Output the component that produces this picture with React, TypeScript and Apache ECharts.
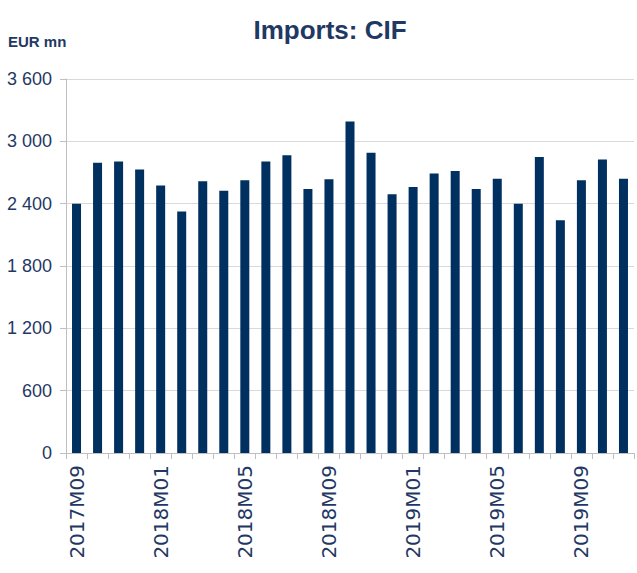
import React, { useEffect, useRef } from "react";
import * as echarts from "echarts";

const months: string[] = [
  "2017M09", "2017M10", "2017M11", "2017M12",
  "2018M01", "2018M02", "2018M03", "2018M04",
  "2018M05", "2018M06", "2018M07", "2018M08",
  "2018M09", "2018M10", "2018M11", "2018M12",
  "2019M01", "2019M02", "2019M03", "2019M04",
  "2019M05", "2019M06", "2019M07", "2019M08",
  "2019M09", "2019M10", "2019M11",
];

const importsCIF: number[] = [
  2400, 2795, 2805, 2730, 2575, 2325, 2615, 2525,
  2625, 2805, 2865, 2540, 2635, 3190, 2890, 2490,
  2560, 2690, 2715, 2540, 2640, 2400, 2850, 2240,
  2625, 2825, 2640,
];

const yTicks: number[] = [0, 600, 1200, 1800, 2400, 3000, 3600];

const titleText = "Imports: CIF";
const unitText = "EUR mn";

const NAVY = "#1f3864";
const BAR = "#00305f";
const NARROW = "'Liberation Sans', Arial, sans-serif";

export default function App() {
  const ref = useRef<HTMLDivElement>(null);
  useEffect(() => {
    if (!ref.current) return;
    const chart = echarts.init(ref.current, null, { renderer: "svg" });
    chart.setOption({
      animation: false,
      backgroundColor: "#ffffff",
      title: {
        text: titleText,
        left: 325,
        textAlign: "center",
        top: 12,
        textStyle: {
          fontFamily: NARROW,
          fontSize: 26,
          fontWeight: "bold",
          color: NAVY,
        },
      },
      graphic: [
        {
          type: "text",
          left: 8,
          top: 34,
          style: {
            text: unitText,
            fontFamily: NARROW,
            fontSize: 15,
            fontWeight: "bold",
            fill: NAVY,
          },
        },
      ],
      grid: { left: 66, right: 3, top: 79, bottom: 120 },
      xAxis: {
        type: "category",
        data: months,
        boundaryGap: true,
        axisLine: { lineStyle: { color: "#bfbfbf", width: 1 } },
        axisTick: { show: true, length: 6, lineStyle: { color: "#bfbfbf" }, interval: 0 },
        axisLabel: {
          interval: 3,
          rotate: 90,
          margin: 12,
          color: NAVY,
          fontFamily: "'DejaVu Sans', sans-serif",
          fontSize: 20,
        },
        splitLine: { show: false },
      },
      yAxis: {
        type: "value",
        min: yTicks[0],
        max: yTicks[yTicks.length - 1],
        interval: 600,
        axisLine: { show: true, lineStyle: { color: "#bfbfbf" } },
        axisTick: { show: true, length: 6, lineStyle: { color: "#bfbfbf" } },
        axisLabel: {
          margin: 14,
          color: NAVY,
          fontFamily: NARROW,
          fontSize: 18,
          formatter: (v: number) =>
            String(v).replace(/\B(?=(\d{3})+(?!\d))/g, " "),
        },
        splitLine: { show: true, lineStyle: { color: "#d9d9d9", width: 1 } },
      },
      series: [
        {
          type: "bar",
          data: importsCIF,
          barWidth: 9,
          itemStyle: { color: BAR },
        },
      ],
    });
    return () => chart.dispose();
  }, []);
  return (
    <div
      ref={ref}
      style={{ position: "fixed", left: 0, top: 0, width: 637, height: 573 }}
    />
  );
}
